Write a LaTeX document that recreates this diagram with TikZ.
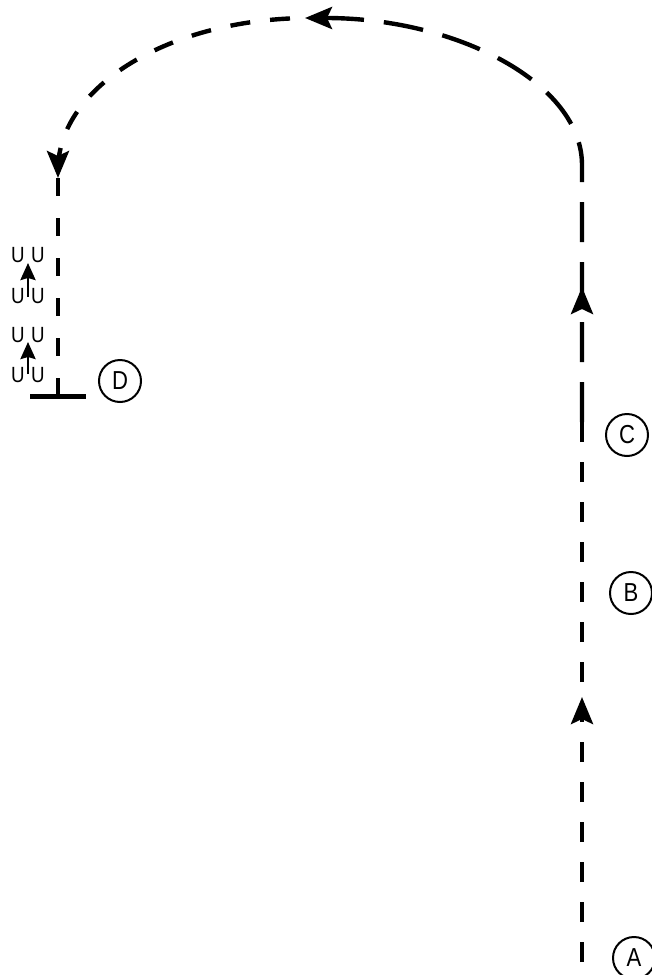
\documentclass[tikz,border=0pt]{standalone}
\usepackage{fontspec}
\setmainfont{Liberation Sans}[FakeStretch=0.85]
\usetikzlibrary{arrows.meta}
\usetikzlibrary{decorations.markings}

\begin{document}
\begin{tikzpicture}[x=0.5pt,y=-0.5pt,
    route/.style={line width=2.2pt},
    shortdash/.style={dash pattern=on 10pt off 10pt},
    longdash/.style={dash pattern=on 20pt off 10pt},
    head/.style={-{Stealth[length=13.5pt,width=11pt,inset=2.5pt]}},
    midarrow/.style={decoration={markings,
        mark=at position #1 with {\arrow{Stealth[length=13.5pt,width=11pt,inset=2.5pt]}}},
        postaction={decorate}},
    ]
\useasboundingbox (0,0) rectangle (652,975);

\coordinate (a) at (582,982);
\coordinate (c) at (582,422);
\coordinate (r) at (582,165);
\coordinate (s) at (310,18);
\coordinate (e) at (58,178);
\coordinate (d) at (58,396);
\coordinate (l) at (30,396);
\coordinate (m) at (86,396);
%\coordinate (t) at (305,18);
\coordinate (p1) at (28,297);
\coordinate (q1) at (28,263);
\coordinate (p2) at (28,374);
\coordinate (q2) at (28,342);

\newcommand{\stoplabel}[3]{
    \node[draw,circle,line width=1pt,minimum size=21pt,inner sep=0pt,
        font=\fontsize{13}{15}\selectfont] (#1) at (#2) {#3};
}

\newcommand{\footrow}[2]{
    \node[inner sep=0pt,font=\fontsize{11}{13}\selectfont] (#1l) at (18,#2) {U};
    \node[inner sep=0pt,font=\fontsize{11}{13}\selectfont] (#1r) at (38,#2) {U};
}

\newcommand{\steparrow}[2]{
    \draw[line width=1.4pt,-{Stealth[length=8.5pt,width=7.5pt,inset=1pt]}] (#1)--(#2);
}

% climb up the right side
\draw[route,shortdash,dash phase=10pt,midarrow=142.5pt] (a) -- (c);
\draw[route,longdash,head,midarrow=67.5pt] (c) -- (r)
    arc[start angle=0,end angle=-90,x radius=277,y radius=147];

% back down on the left
\draw[route,shortdash,dash phase=10pt,head] (s)
    arc[start angle=-90,end angle=-180,x radius=252,y radius=152] -- (e);
\draw[route,dash pattern=on 9pt off 11pt] (e) -- (d);
\draw[line width=2.5pt] (l) -- (m);

\footrow{fa}{255}
\footrow{fb}{296}
\footrow{fc}{335}
\footrow{fd}{375}
\steparrow{p1}{q1}
\steparrow{p2}{q2}

\stoplabel{labA}{634,958}{A}
\stoplabel{labB}{631,593}{B}
\stoplabel{labC}{627,435}{C}
\stoplabel{labD}{120,381}{D}
\end{tikzpicture}
\end{document}
